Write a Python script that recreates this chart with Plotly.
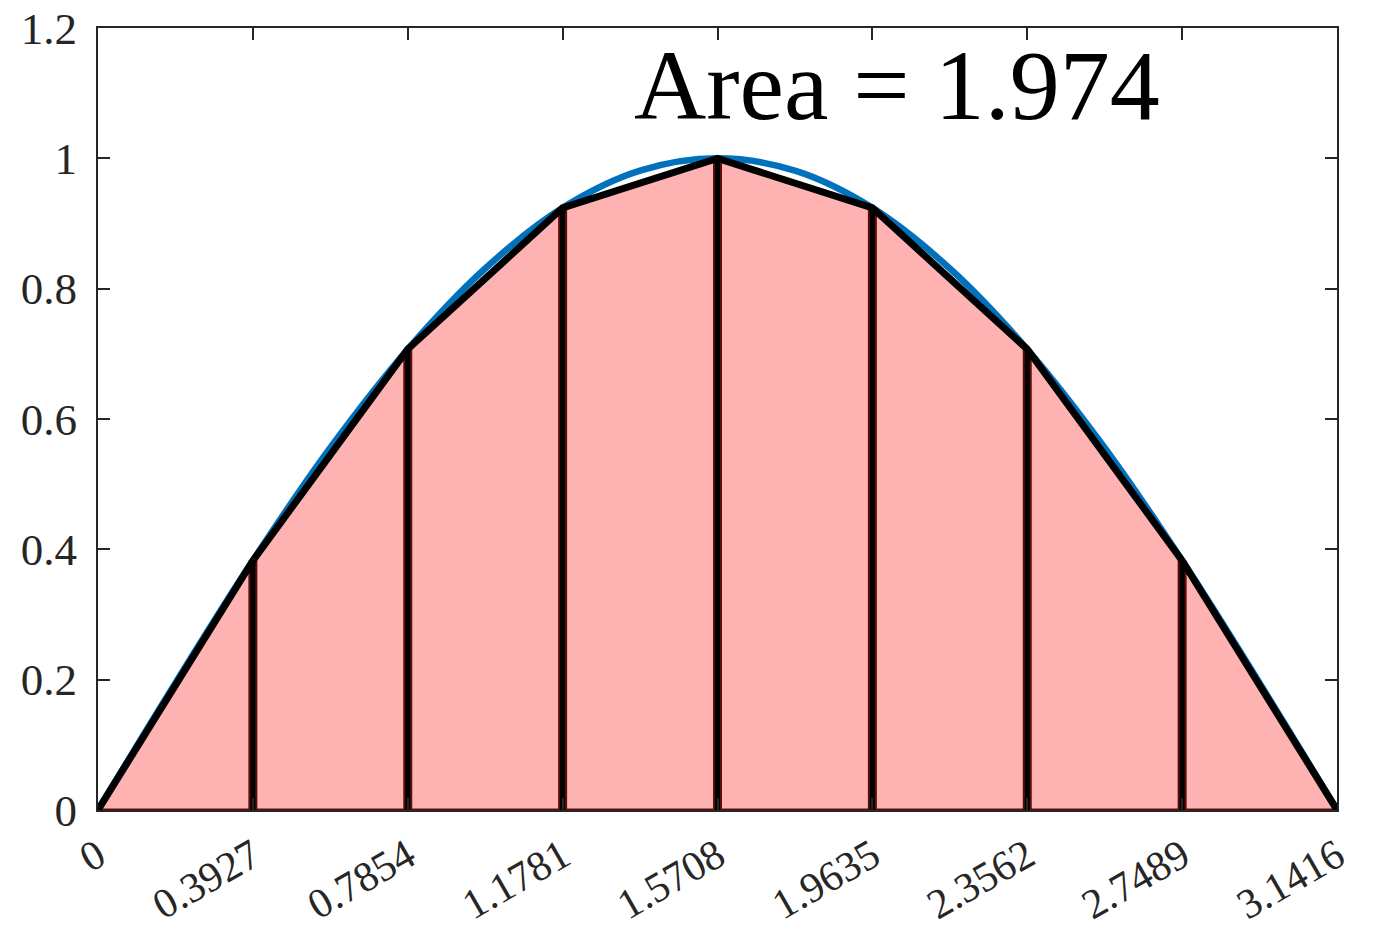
import plotly.graph_objects as go

# Trapezoid nodes on [0, pi] and the function values at them
node_x = [0, 0.3927, 0.7854, 1.1781, 1.5708, 1.9635, 2.3562, 2.7489, 3.1416]
node_y = [0, 0.3827, 0.7071, 0.9239, 1.0, 0.9239, 0.7071, 0.3827, 0]
tick_text = ["0", "0.3927", "0.7854", "1.1781", "1.5708", "1.9635", "2.3562", "2.7489", "3.1416"]

# Samples of the smooth curve sin(x)
curve_x = [0, 0.1963, 0.3927, 0.5890, 0.7854, 0.9817, 1.1781, 1.3744, 1.5708,
           1.7671, 1.9635, 2.1598, 2.3562, 2.5525, 2.7489, 2.9452, 3.1416]
curve_y = [0, 0.195, 0.383, 0.556, 0.707, 0.831, 0.924, 0.981, 1.0,
           0.981, 0.924, 0.831, 0.707, 0.556, 0.383, 0.195, 0]

area_value = 1.974

y_ticks = [0, 0.2, 0.4, 0.6, 0.8, 1, 1.2]
y_tick_text = ["0", "0.2", "0.4", "0.6", "0.8", "1", "1.2"]

FONT = "Liberation Serif"
AXIS_COLOR = "#262626"
EDGE_RED = "rgb(95,12,12)"

fig = go.Figure()

# One shaded trapezoid per interval
for i in range(len(node_x) - 1):
    x0, x1 = node_x[i], node_x[i + 1]
    y0, y1 = node_y[i], node_y[i + 1]
    fig.add_trace(go.Scatter(
        x=[x0, x0, x1, x1, x0], y=[0, y0, y1, 0, 0],
        mode="lines", fill="toself",
        fillcolor="rgb(255,178,178)",
        line=dict(color=EDGE_RED, width=3),
        hoverinfo="skip", showlegend=False,
    ))

# Dark-red patch edges along the shared vertical sides
for xv, yv in zip(node_x[1:-1], node_y[1:-1]):
    fig.add_trace(go.Scatter(
        x=[xv, xv], y=[0, yv], mode="lines",
        line=dict(color=EDGE_RED, width=9),
        hoverinfo="skip", showlegend=False,
    ))

# The exact curve
fig.add_trace(go.Scatter(
    x=curve_x, y=curve_y, mode="lines",
    line=dict(color="#0072BD", width=6.5, shape="spline"),
    showlegend=False,
))

# Vertical sides of the trapezoids
for xv, yv in zip(node_x[1:-1], node_y[1:-1]):
    fig.add_trace(go.Scatter(
        x=[xv, xv], y=[0, yv], mode="lines",
        line=dict(color="black", width=5),
        showlegend=False,
    ))

# Piecewise-linear approximation
fig.add_trace(go.Scatter(
    x=node_x, y=node_y, mode="lines",
    line=dict(color="black", width=7),
    showlegend=False,
))

fig.add_annotation(
    x=2.026, y=1.112, xref="x", yref="y",
    text=f"Area = {area_value:.3f}", showarrow=False,
    font=dict(family=FONT, size=100, color="black"),
    xanchor="center", yanchor="middle",
)

axis_common = dict(
    showgrid=False, zeroline=False, automargin=False,
    showline=True, linecolor=AXIS_COLOR, linewidth=2, mirror="ticks",
    ticks="inside", ticklen=12, tickwidth=2, tickcolor=AXIS_COLOR,
)

fig.update_xaxes(
    range=[0, 3.1416], tickmode="array", tickvals=node_x, ticktext=tick_text,
    tickangle=-30, ticklabelstandoff=3,
    tickfont=dict(family=FONT, size=42, color=AXIS_COLOR), **axis_common,
)
fig.update_yaxes(
    range=[0, 1.2], tickmode="array", tickvals=y_ticks, ticktext=y_tick_text,
    ticklabelstandoff=10,
    tickfont=dict(family=FONT, size=45, color=AXIS_COLOR), **axis_common,
)

fig.update_layout(
    width=1381, height=932,
    margin=dict(l=98, r=44, t=28, b=122),
    plot_bgcolor="white", paper_bgcolor="white",
)

fig.write_html("out.html")
